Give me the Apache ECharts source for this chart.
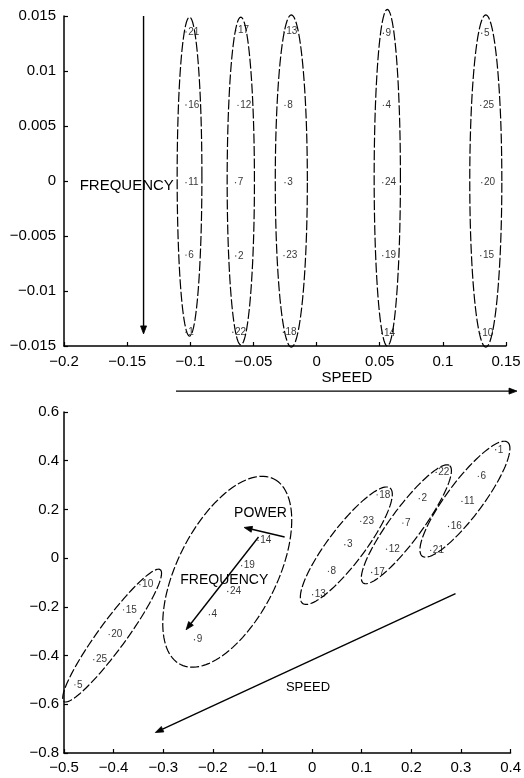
<!DOCTYPE html>
<html><head><meta charset="utf-8">
<script src="https://cdn.jsdelivr.net/npm/echarts@6/dist/echarts.min.js"></script>
<style>html,body{margin:0;padding:0;background:#fff}#c{width:524px;height:778px}</style>
</head><body><div id="c"></div>
<script>
// ---------- TOP PANEL DATA ----------
const topLabels = ['21','16','11','6','1','17','12','7','2','22','13','8','3','23','18','9','4','24','19','14','5','25','20','15','10'];
const topX = [-0.1034,-0.1034,-0.1034,-0.1034,-0.1034, -0.064,-0.0622,-0.0642,-0.064,-0.0663, -0.0258,-0.025,-0.025,-0.0258,-0.0263, 0.0529,0.0529,0.0524,0.0524,0.0516, 0.1308,0.130,0.1308,0.130,0.1294];
const topY = [0.01355,0.00691,-0.00015,-0.00673,-0.01375, 0.01366,0.00688,-0.00015,-0.00682,-0.01375, 0.01357,0.00688,-0.00015,-0.00679,-0.01375, 0.01343,0.00688,-0.00015,-0.00679,-0.01385, 0.01343,0.00688,-0.00015,-0.00679,-0.01385];
// ellipses: centre x, centre y, half-width, half-height (data units)
const topEllCX = [-0.1006,-0.06,-0.02,0.056,0.134];
const topEllCY = [0.0004,0,0,0.0003,0];
const topEllRX = [0.0098,0.0108,0.0127,0.0104,0.0127];
const topEllRY = [0.0145,0.0149,0.0151,0.0153,0.0151];
// arrows: x1,y1 -> x2,y2
const topArrowX1 = [-0.137,-0.1113];
const topArrowY1 = [0.0150,-0.0191];
const topArrowX2 = [-0.137,0.1587];
const topArrowY2 = [-0.0139,-0.0191];
// annotation texts
const topTexts = ['FREQUENCY','SPEED'];
const topTextX = [-0.1503,0.024];
const topTextY = [-0.00045,-0.01786];
const topXTicks = {min:-0.2,max:0.15,interval:0.05};
const topYTicks = {min:-0.015,max:0.015,interval:0.005};

// ---------- BOTTOM PANEL DATA ----------
const botLabels = ['1','6','11','16','21','22','2','7','12','17','18','23','3','8','13','14','19','24','4','9','10','15','20','25','5'];
const botX = [0.370,0.335,0.302,0.275,0.239, 0.250,0.216,0.183,0.150,0.120, 0.131,0.098,0.066,0.033,0.001, -0.109,-0.142,-0.170,-0.207,-0.237, -0.347,-0.380,-0.409,-0.440,-0.478];
const botY = [0.445,0.336,0.233,0.130,0.032, 0.352,0.244,0.144,0.037,-0.059, 0.260,0.151,0.055,-0.054,-0.150, 0.073,-0.031,-0.137,-0.232,-0.335, -0.109,-0.212,-0.314,-0.417,-0.520];
// rotated ellipses: centre, end of major semi-axis, minor/major ratio
const botEllCX = [0.308,0.190,0.069,-0.403,-0.171];
const botEllCY = [0.242,0.139,0.051,-0.318,-0.056];
const botEllEX = [0.394,0.277,0.157,-0.306,-0.077];
const botEllEY = [0.476,0.380,0.288,-0.0475,0.325];
const botEllRatio = [0.25,0.22,0.25,0.17,0.48];
const botArrowX1 = [-0.108,-0.0553,0.289];
const botArrowY1 = [0.087,0.0868,-0.146];
const botArrowX2 = [-0.254,-0.137,-0.316];
const botArrowY2 = [-0.294,0.126,-0.716];
const botTexts = ['POWER','FREQUENCY','SPEED'];
const botTextX = [-0.104,-0.177,-0.0083];
const botTextY = [0.183,-0.092,-0.529];
const botTextSize = [14,14,13];
const botXTicks = {min:-0.5,max:0.4,interval:0.1};
const botYTicks = {min:-0.8,max:0.6,interval:0.2};

// ---------- RENDER ----------
const FONT = '"Liberation Sans", Arial, sans-serif';
const fmt = v => { const r = +(+v).toFixed(4); return r < 0 ? '\u2212' + String(-r) : String(r); };

function axis(ticks, grid, isX, margin) {
  return Object.assign({
    type:'value', gridIndex:grid, min:ticks.min, max:ticks.max, interval:ticks.interval,
    splitLine:{show:false},
    axisLine:{show:true, onZero:false, lineStyle:{color:'#000', width:1.5}},
    axisTick:{show:true, inside:true, length:4, lineStyle:{color:'#000', width:1.2}},
    axisLabel:{color:'#000', fontSize:15, fontFamily:FONT, margin:margin, formatter:fmt, showMinLabel:true, showMaxLabel:true}
  }, isX ? {position:'bottom'} : {position:'left'});
}

function pointsSeries(xs, ys, labels, gi) {
  return {
    type:'scatter', xAxisIndex:gi, yAxisIndex:gi, symbol:'circle', symbolSize:1.3, clip:false,
    itemStyle:{color:'#000'}, silent:true,
    label:{show:true, position:'right', distance:1.5, fontSize:10, fontFamily:FONT, color:'#000', formatter:'{b}'},
    data: xs.map((x,i)=>({name:labels[i], value:[x, ys[i]]}))
  };
}

function ellipseAxisSeries(cx, cy, rx, ry, gi) {
  return {
    type:'custom', xAxisIndex:gi, yAxisIndex:gi, clip:false, silent:true,
    data: cx.map((x,i)=>[x, cy[i], rx[i], ry[i]]),
    renderItem:(params, api)=>{
      const pts=[];
      for (let k=0;k<=96;k++){ const t=k/96*2*Math.PI;
        pts.push(api.coord([api.value(0)+api.value(2)*Math.cos(t), api.value(1)+api.value(3)*Math.sin(t)])); }
      return {type:'polyline', shape:{points:pts}, style:{fill:null, stroke:'#000', lineWidth:1.2, lineDash:[10,2.5]}};
    }
  };
}

function ellipseRotSeries(cx, cy, ex, ey, ratio, gi) {
  return {
    type:'custom', xAxisIndex:gi, yAxisIndex:gi, clip:false, silent:true,
    data: cx.map((x,i)=>[x, cy[i], ex[i], ey[i], ratio[i]]),
    renderItem:(params, api)=>{
      const c = api.coord([api.value(0), api.value(1)]);
      const e = api.coord([api.value(2), api.value(3)]);
      const ux=e[0]-c[0], uy=e[1]-c[1], r=api.value(4);
      const vx=-uy*r, vy=ux*r;
      const pts=[];
      for (let k=0;k<=120;k++){ const t=k/120*2*Math.PI, co=Math.cos(t), si=Math.sin(t);
        pts.push([c[0]+co*ux+si*vx, c[1]+co*uy+si*vy]); }
      return {type:'polyline', shape:{points:pts}, style:{fill:null, stroke:'#000', lineWidth:1.2, lineDash:[9,2.5]}};
    }
  };
}

function arrowSeries(x1, y1, x2, y2, gi) {
  return {
    type:'custom', xAxisIndex:gi, yAxisIndex:gi, clip:false, silent:true,
    data: x1.map((x,i)=>[x, y1[i], x2[i], y2[i]]),
    renderItem:(params, api)=>{
      const p1 = api.coord([api.value(0), api.value(1)]);
      const p2 = api.coord([api.value(2), api.value(3)]);
      const dx=p2[0]-p1[0], dy=p2[1]-p1[1], L=Math.hypot(dx,dy), ux=dx/L, uy=dy/L;
      const hl=8, hw=3;
      const bx=p2[0]-ux*hl, by=p2[1]-uy*hl;
      return {type:'group', children:[
        {type:'line', shape:{x1:p1[0], y1:p1[1], x2:bx, y2:by}, style:{stroke:'#000', lineWidth:1.4}},
        {type:'polygon', shape:{points:[[p2[0],p2[1]],[bx-uy*hw,by+ux*hw],[bx+uy*hw,by-ux*hw]]}, style:{fill:'#000', stroke:'#000', lineWidth:0.8}}
      ]};
    }
  };
}

function textSeries(xs, ys, texts, sizes, gi) {
  return {
    type:'custom', xAxisIndex:gi, yAxisIndex:gi, clip:false, silent:true,
    data: xs.map((x,i)=>[x, ys[i], i]),
    renderItem:(params, api)=>{
      const p = api.coord([api.value(0), api.value(1)]);
      const i = api.value(2);
      return {type:'text', x:p[0], y:p[1], style:{text:texts[i], fill:'#000', fontSize:sizes[i], fontFamily:FONT,
        align:'center', verticalAlign:'middle', textAlign:'center', textVerticalAlign:'middle'}};
    }
  };
}

const chart = echarts.init(document.getElementById('c'), null, {renderer:'canvas'});
chart.setOption({
  animation:false,
  backgroundColor:'#fff',
  textStyle:{fontFamily:FONT},
  grid:[{left:64, top:16, width:442, height:330}, {left:64, top:412, width:454, height:341}],
  xAxis:[axis(topXTicks,0,true,8), axis(botXTicks,1,true,7)],
  yAxis:[axis(topYTicks,0,false,8), axis(botYTicks,1,false,5)],
  series:[
    ellipseAxisSeries(topEllCX, topEllCY, topEllRX, topEllRY, 0),
    arrowSeries(topArrowX1, topArrowY1, topArrowX2, topArrowY2, 0),
    textSeries(topTextX, topTextY, topTexts, [15,15], 0),
    pointsSeries(topX, topY, topLabels, 0),
    ellipseRotSeries(botEllCX, botEllCY, botEllEX, botEllEY, botEllRatio, 1),
    arrowSeries(botArrowX1, botArrowY1, botArrowX2, botArrowY2, 1),
    textSeries(botTextX, botTextY, botTexts, botTextSize, 1),
    pointsSeries(botX, botY, botLabels, 1)
  ]
});
</script></body></html>
